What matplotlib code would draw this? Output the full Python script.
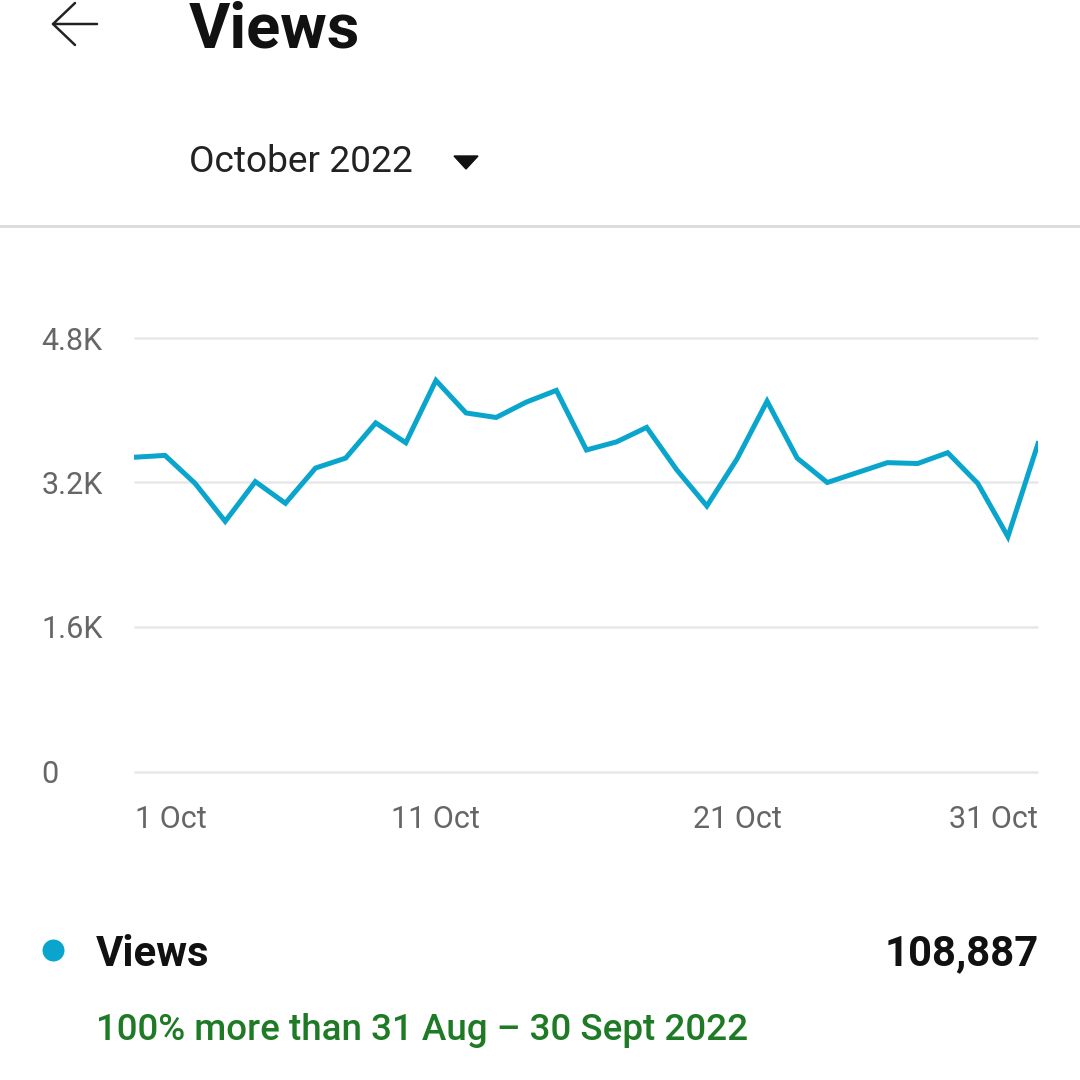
import matplotlib
matplotlib.use('Agg')
import matplotlib.pyplot as plt

plt.rcParams['font.family'] = ['Roboto', 'DejaVu Sans']

days = list(range(1, 32))
views = [3480, 3500, 3190, 2770, 3210, 2970, 3360, 3470, 3860, 3640, 4330, 3970, 3920, 4090, 4220,
         3560, 3650, 3810, 3340, 2940, 3460, 4100, 3470, 3200, 3310, 3420, 3410, 3530, 3190, 2600, 3630]
ytick_vals = [0, 1600, 3200, 4800]
ytick_labels = ['0', '1.6K', '3.2K', '4.8K']
xtick_vals = [1, 11, 21, 31]
xtick_labels = ['1 Oct', '11 Oct', '21 Oct', '31 Oct']

fig = plt.figure(figsize=(10.8, 10.8), dpi=100, facecolor='white')

def fx(p): return p / 1080
def fy(p): return 1 - p / 1080

ax = fig.add_axes([fx(134), fy(771.5), (1038 - 134) / 1080, (771.5 - 338) / 1080])
ax.set_xlim(0.97, 31)
ax.set_ylim(0, 4800)
ax.plot(days, views, color='#0aa5cc', lw=3.6, solid_joinstyle='miter', clip_on=True)
ax.set_yticks(ytick_vals)
ax.set_yticklabels([])
ax.set_xticks(xtick_vals)
ax.set_xticklabels([])
ax.tick_params(length=0)
ax.grid(axis='y', color='#e8e8e8', lw=1.8, solid_capstyle='butt')
for g in ax.get_ygridlines():
    g.set_clip_on(False)
ax.set_axisbelow(True)
for s in ax.spines.values():
    s.set_visible(False)

grey = '#666666'
for v, lab in zip(ytick_vals, ytick_labels):
    ypx = 771.5 - v / 4800 * 433.5
    fig.text(fx(41.5), fy(ypx + 3), lab, fontsize=22, color=grey, va='center', ha='left')
for d, lab, ha, xp in zip(xtick_vals, xtick_labels, ['left', 'center', 'center', 'right'], [135, 435.5, 737.5, 1038]):
    fig.text(fx(xp), fy(819), lab, fontsize=22, color=grey, va='center', ha=ha)

dark = '#111111'
fig.text(fx(189), fy(31), 'Views', fontsize=45.5, fontweight='bold', color=dark, va='center', ha='left')
fig.text(fx(189), fy(162), 'October 2022', fontsize=26.7, color='#222222', va='center', ha='left')
fig.text(fx(95.5), fy(954), 'Views', fontsize=30.2, fontweight='bold', color=dark, va='center', ha='left')
fig.text(fx(1038.5), fy(954), '108,887', fontsize=30.2, fontweight='bold', color=dark, va='center', ha='right')
fig.text(fx(95.5), fy(1030), '100% more than 31 Aug – 30 Sept 2022', fontsize=26.5, fontweight='medium',
         color='#1e7a24', va='center', ha='left')

# overlay for decorations, in pixel coordinates
ov = fig.add_axes([0, 0, 1, 1], facecolor='none')
ov.set_xlim(0, 1080)
ov.set_ylim(1080, 0)
ov.axis('off')
ov.plot([0, 1080], [226, 226], color='#dddddd', lw=2.2)
ov.plot([97, 53, 75], [24, 24, 3], color='#222222', lw=1.8, solid_capstyle='round')
ov.plot([53, 75], [24, 45], color='#222222', lw=1.8, solid_capstyle='round')
ov.fill([454, 478, 466], [156, 156, 169], color='#111111')
ov.scatter([52.5], [950], s=250, color='#0aa5cc', linewidths=0)

fig.savefig('out.png', dpi=100)
